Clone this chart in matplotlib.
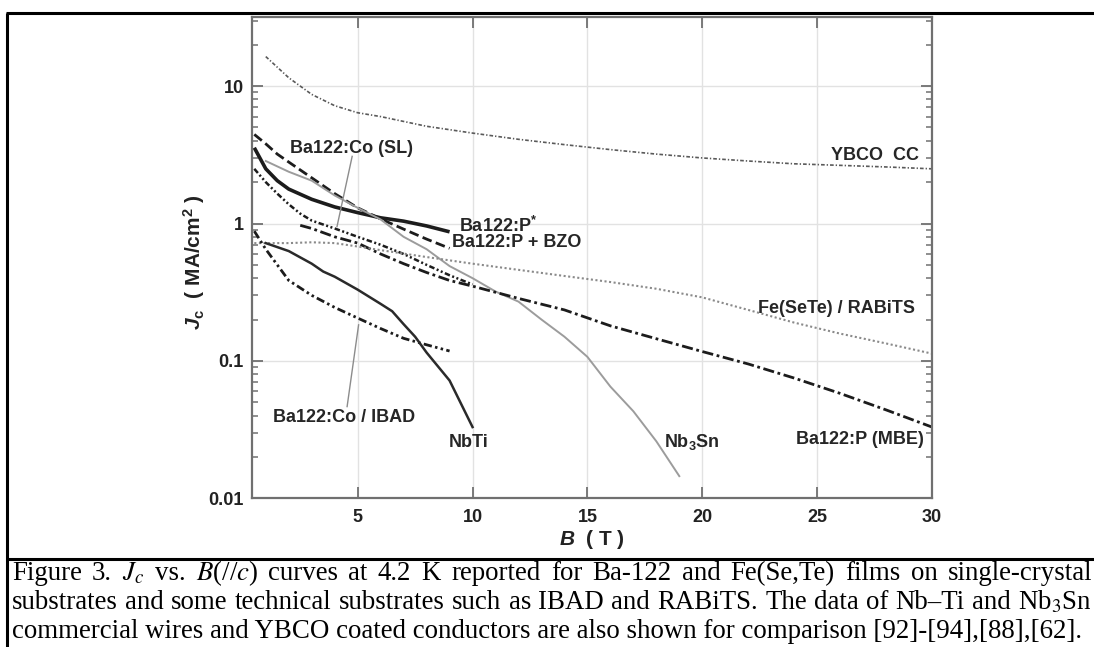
import numpy as np
import matplotlib
matplotlib.use('Agg')
import matplotlib.pyplot as plt
from matplotlib.lines import Line2D
from matplotlib.ticker import FixedLocator, NullFormatter, LogLocator

plt.rcParams['font.family'] = ['Liberation Sans', 'DejaVu Sans']
plt.rcParams['mathtext.fontset'] = 'custom'
plt.rcParams['mathtext.rm'] = 'Liberation Sans:bold'
plt.rcParams['mathtext.bf'] = 'Liberation Sans:bold'
plt.rcParams['mathtext.sf'] = 'Liberation Sans:bold'
plt.rcParams['mathtext.it'] = 'Liberation Sans:bold:italic'

# Jc(B) at 4.2 K, B in tesla, Jc in MA/cm^2
ybco_b = [1.0, 2, 3, 4, 5, 6, 8, 10, 12, 14, 16, 18, 20, 22, 24, 26, 28, 30]
ybco_jc = [16.4, 11.5, 8.7, 7.2, 6.4, 6.0, 5.1, 4.55, 4.1, 3.75, 3.45, 3.2, 3.0, 2.85, 2.72, 2.65, 2.58, 2.5]

p_star_b = [0.5, 1, 1.5, 2, 3, 4, 5, 6, 7, 8, 9]
p_star_jc = [3.56, 2.5, 2.05, 1.78, 1.5, 1.32, 1.2, 1.1, 1.04, 0.96, 0.87]

p_bzo_b = [0.5, 1, 1.5, 2, 3, 4, 5, 6, 7, 8, 9]
p_bzo_jc = [4.45, 3.8, 3.2, 2.8, 2.15, 1.65, 1.3, 1.08, 0.91, 0.77, 0.66]

nb3sn_b = [1, 2, 3, 4, 5, 6, 7, 8, 9, 10, 11, 12, 13, 14, 15, 16, 17, 18, 19]
nb3sn_jc = [2.85, 2.38, 2.05, 1.6, 1.3, 1.07, 0.8, 0.65, 0.49, 0.40, 0.32, 0.27, 0.2, 0.15, 0.107, 0.065, 0.043, 0.026, 0.0145]

co_sl_b = [0.5, 1, 1.5, 2, 2.5, 3, 4, 5, 6, 7, 8, 9, 10]
co_sl_jc = [2.5, 2.0, 1.65, 1.38, 1.18, 1.05, 0.92, 0.80, 0.70, 0.6, 0.5, 0.42, 0.36]

p_mbe_b = [2.5, 3, 4, 5, 6, 7, 8, 9, 10, 12, 14, 16, 18, 20, 22, 24, 26, 28, 30]
p_mbe_jc = [0.97, 0.92, 0.80, 0.72, 0.6, 0.51, 0.44, 0.385, 0.35, 0.285, 0.235, 0.18, 0.145, 0.117, 0.095, 0.075, 0.058, 0.044, 0.033]

fest_b = [0.5, 1, 2, 3, 4, 5, 6, 8, 10, 12, 14, 16, 18, 20, 22, 24, 26, 28, 30]
fest_jc = [0.72, 0.72, 0.72, 0.73, 0.72, 0.68, 0.64, 0.57, 0.51, 0.46, 0.415, 0.375, 0.335, 0.29, 0.235, 0.19, 0.158, 0.134, 0.113]

co_ibad_b = [0.5, 1, 1.5, 2, 3, 4, 5, 6, 7, 8, 9]
co_ibad_jc = [0.88, 0.65, 0.5, 0.385, 0.3, 0.245, 0.205, 0.172, 0.146, 0.131, 0.118]

nbti_b = [1, 2, 3, 3.5, 4, 5, 6, 6.5, 7, 7.5, 8, 9, 10]
nbti_jc = [0.72, 0.63, 0.51, 0.447, 0.41, 0.33, 0.26, 0.23, 0.185, 0.15, 0.115, 0.072, 0.033]

x_ticks = [5, 10, 15, 20, 25, 30]
x_ticklabels = ['5', '10', '15', '20', '25', '30']
y_ticks = [0.01, 0.1, 1, 10]
y_ticklabels = ['0.01', '0.1', '1', '10']

caption_1 = ['Figure', '3.', '$J_c$', 'vs.', '$B$(//$c$)', 'curves', 'at', '4.2', 'K', 'reported', 'for',
             'Ba-122', 'and', 'Fe(Se,Te)', 'films', 'on', 'single-crystal']
caption_2 = ['substrates', 'and', 'some', 'technical', 'substrates', 'such', 'as', 'IBAD', 'and', 'RABiTS.',
             'The', 'data', 'of', 'Nb\u2013Ti', 'and', 'Nb$_3$Sn']
caption_3 = 'commercial wires and YBCO coated conductors are also shown for comparison [92]-[94],[88],[62].'

W, H = 1094, 647
fig = plt.figure(figsize=(W / 100, H / 100), dpi=100)
fig.patch.set_facecolor('white')

ax = fig.add_axes([252 / W, 1 - 498.3 / H, 680 / W, 481.6 / H])
ax.set_yscale('log')
ax.set_xlim(0.4, 30)
ax.set_ylim(0.01, 32)

ink = '#1c1c1c'
ax.plot(ybco_b, ybco_jc, color='#5a5a5a', lw=1.2, dashes=(2.2, 1.2, 0.8, 1.2))
ax.plot(p_star_b, p_star_jc, color=ink, lw=2.6, solid_capstyle='butt')
ax.plot(p_bzo_b, p_bzo_jc, color=ink, lw=2.0, dashes=(3.5, 1.6))
ax.plot(nb3sn_b, nb3sn_jc, color='#9c9c9c', lw=1.4)
ax.plot(co_sl_b, co_sl_jc, color=ink, lw=1.8, dashes=(2.2, 1.0, 0.8, 1.0, 0.8, 1.0))
ax.plot(p_mbe_b, p_mbe_jc, color=ink, lw=2.0, dashes=(4.0, 1.3, 1.0, 1.3))
ax.plot(fest_b, fest_jc, color='#8a8a8a', lw=1.5, dashes=(1.0, 1.2))
ax.plot(co_ibad_b, co_ibad_jc, color=ink, lw=2.0, dashes=(3.0, 1.2, 0.9, 1.2, 0.9, 1.2))
ax.plot(nbti_b, nbti_jc, color='#2a2a2a', lw=1.8)

# leader lines from labels to curves
ax.plot([4.76, 4.10], [3.08, 0.95], color='#8c8c8c', lw=1.0)
ax.plot([4.54, 5.04], [0.0465, 0.183], color='#8c8c8c', lw=1.0)

lab = dict(fontsize=13, color='#262626', fontweight='bold', va='baseline')
ax.text(2.06, 3.26, 'Ba122:Co (SL)', ha='left', **lab)
ax.text(9.39, 0.865, 'Ba122:P$^{*}$', ha='left', **lab)
ax.text(9.12, 0.673, 'Ba122:P + BZO', ha='left', **lab)
ax.text(29.42, 2.91, 'YBCO  CC', ha='right', **lab)
ax.text(29.28, 0.224, 'Fe(SeTe) / RABiTS', ha='right', **lab)
ax.text(29.64, 0.0249, 'Ba122:P (MBE)', ha='right', **lab)
ax.text(18.34, 0.0238, 'Nb$_3$Sn', ha='left', **lab)
ax.text(8.97, 0.0238, 'NbTi', ha='left', **lab)
ax.text(1.31, 0.0361, 'Ba122:Co / IBAD', ha='left', **lab)

spine_c = '#707070'
for s in ax.spines.values():
    s.set_color(spine_c)
    s.set_linewidth(1.6)
ax.xaxis.set_major_locator(FixedLocator(x_ticks))
ax.yaxis.set_major_locator(FixedLocator(y_ticks))
ax.yaxis.set_minor_locator(LogLocator(base=10, subs=np.arange(2, 10)))
ax.yaxis.set_minor_formatter(NullFormatter())
ax.set_xticklabels(x_ticklabels, fontweight='bold')
ax.set_yticklabels(y_ticklabels, fontweight='bold')
ax.tick_params(which='both', direction='in', top=True, right=True, color=spine_c,
               labelsize=13, labelcolor='#222222')
ax.tick_params(which='major', length=8, width=1.3)
ax.tick_params(which='minor', length=4, width=1.1)
ax.tick_params(axis='y', pad=6)
ax.tick_params(axis='x', pad=8)
ax.grid(True, which='major', color='#e2e2e2', lw=1.0)
ax.set_axisbelow(True)

ax.set_xlabel('$B$  ( T )', fontsize=15, fontweight='bold', color='#222222')
ax.xaxis.set_label_coords(0.5, -0.062)
ax.set_ylabel(r'$J_\mathrm{c}$  ( MA/cm$^2$ )', fontsize=15, fontweight='bold', color='#222222')
ax.yaxis.set_label_coords(-0.066, 0.49)

# frame of the figure cell and caption separator
lk = dict(color='black', lw=2.2, transform=fig.transFigure, solid_capstyle='butt')
fig.add_artist(Line2D([7 / W, 7 / W], [0, 1 - 13 / H], **lk))
fig.add_artist(Line2D([6 / W, 1], [1 - 13 / H, 1 - 13 / H], **lk))
fig.add_artist(Line2D([6 / W, 1], [1 - 559 / H, 1 - 559 / H], **lk))

cap = dict(fontsize=19.4, family='Liberation Serif', fontweight='normal', color='black',
           math_fontfamily='stix', va='baseline', ha='left')
renderer = fig.canvas.get_renderer()


def justify(words, y_px, x0=12, x1=1092):
    texts = [fig.text(0, 1 - y_px / H, w, **cap) for w in words]
    widths = [t.get_window_extent(renderer).width for t in texts]
    gap = (x1 - x0 - sum(widths)) / (len(words) - 1)
    x = x0
    for t, w in zip(texts, widths):
        t.set_x(x / W)
        x += w + gap


justify(caption_1, 580)
justify(caption_2, 609)
fig.text(12 / W, 1 - 638 / H, caption_3, **cap)

fig.savefig('out.png', dpi=100, facecolor='white')
